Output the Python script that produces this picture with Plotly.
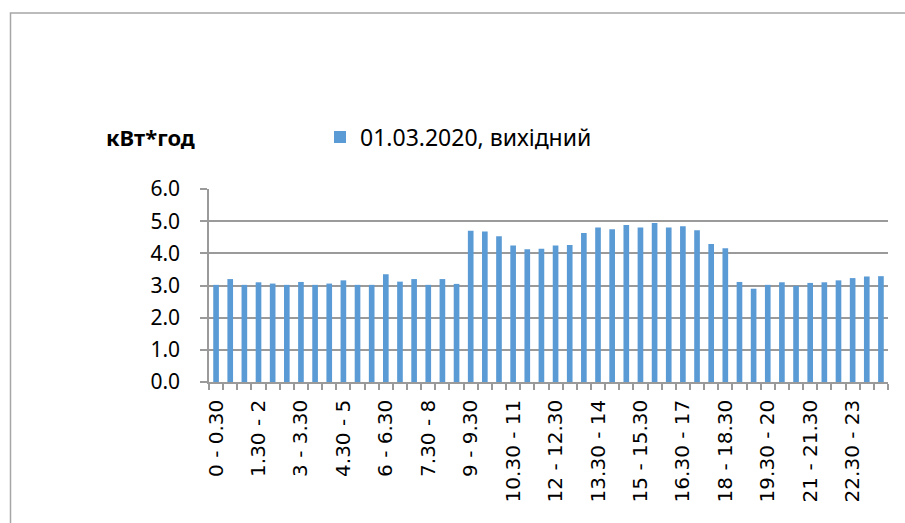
import plotly.graph_objects as go

# Half-hour intervals of the day
intervals = [
    "0 - 0.30", "0.30 - 1", "1 - 1.30", "1.30 - 2", "2 - 2.30", "2.30 - 3",
    "3 - 3.30", "3.30 - 4", "4 - 4.30", "4.30 - 5", "5 - 5.30", "5.30 - 6",
    "6 - 6.30", "6.30 - 7", "7 - 7.30", "7.30 - 8", "8 - 8.30", "8.30 - 9",
    "9 - 9.30", "9.30 - 10", "10 - 10.30", "10.30 - 11", "11 - 11.30", "11.30 - 12",
    "12 - 12.30", "12.30 - 13", "13 - 13.30", "13.30 - 14", "14 - 14.30", "14.30 - 15",
    "15 - 15.30", "15.30 - 16", "16 - 16.30", "16.30 - 17", "17 - 17.30", "17.30 - 18",
    "18 - 18.30", "18.30 - 19", "19 - 19.30", "19.30 - 20", "20 - 20.30", "20.30 - 21",
    "21 - 21.30", "21.30 - 22", "22 - 22.30", "22.30 - 23", "23 - 23.30", "23.30 - 24",
]

# Consumption per interval, kWh
consumption = [
    3.02, 3.20, 3.02, 3.10, 3.06, 3.02, 3.11, 3.02, 3.06, 3.16, 3.02, 3.02,
    3.35, 3.12, 3.20, 3.02, 3.20, 3.05, 4.70, 4.68, 4.53, 4.24, 4.13, 4.14,
    4.24, 4.26, 4.63, 4.80, 4.75, 4.88, 4.80, 4.94, 4.80, 4.84, 4.72, 4.29,
    4.16, 3.11, 2.90, 3.02, 3.10, 2.99, 3.08, 3.10, 3.16, 3.23, 3.28, 3.29,
]

series_name = "01.03.2020, вихідний"
unit_label = "кВт*год"

# Only every third interval gets a visible label
tick_text = [lab if i % 3 == 0 else "" for i, lab in enumerate(intervals)]

W, H = 905, 523
L, R, T, B = 209, 17, 189, 141
pw, ph = W - L - R, H - T - B


def px_x(x):
    return (x - L) / pw


def px_y(y):
    return (H - B - y) / ph


grid_color = "#9a9a9a"

fig = go.Figure(
    go.Bar(
        x=intervals,
        y=consumption,
        name=series_name,
        marker=dict(color="#5B9BD5", line=dict(width=0)),
        showlegend=True,
    )
)

fig.update_layout(
    width=W,
    height=H,
    margin=dict(l=L, r=R, t=T, b=B, autoexpand=False),
    paper_bgcolor="white",
    plot_bgcolor="white",
    bargap=0.6,
    font=dict(family="Noto Sans", color="#000000"),
    legend=dict(
        x=px_x(320),
        y=px_y(137),
        xanchor="left",
        yanchor="middle",
        font=dict(family="Noto Sans", size=23, color="#000000"),
        bgcolor="rgba(0,0,0,0)",
    ),
    xaxis=dict(
        type="category",
        tickmode="array",
        tickvals=intervals,
        ticktext=tick_text,
        tickson="boundaries",
        tickangle=-90,
        ticks="outside",
        ticklen=6,
        tickcolor=grid_color,
        tickwidth=1.5,
        showgrid=False,
        showline=True,
        linecolor=grid_color,
        linewidth=1.5,
        tickfont=dict(family="DejaVu Sans", size=20, color="#000000"),
        ticklabelstandoff=8,
        automargin=False,
    ),
    yaxis=dict(
        range=[0, 6],
        dtick=1,
        tick0=0,
        tickformat=".1f",
        ticks="outside",
        ticklen=7,
        tickcolor=grid_color,
        tickwidth=1.5,
        showgrid=True,
        gridcolor=grid_color,
        gridwidth=1.5,
        showline=True,
        linecolor=grid_color,
        linewidth=1.5,
        zeroline=False,
        tickfont=dict(family="Noto Sans", size=21, color="#000000"),
        ticklabelstandoff=16,
        automargin=False,
    ),
    shapes=[
        dict(
            type="rect",
            xref="paper",
            yref="paper",
            x0=px_x(10.5),
            x1=px_x(W + 10),
            y0=px_y(H + 10),
            y1=px_y(13),
            line=dict(color="#a6a6a6", width=1.5),
            fillcolor="rgba(0,0,0,0)",
            layer="below",
        )
    ],
    annotations=[
        dict(
            text="<b>" + unit_label + "</b>",
            xref="paper",
            yref="paper",
            x=px_x(150),
            y=px_y(137),
            xanchor="center",
            yanchor="middle",
            showarrow=False,
            font=dict(family="Noto Sans", size=22, color="#000000"),
        )
    ],
)

fig.write_html("out.html")
